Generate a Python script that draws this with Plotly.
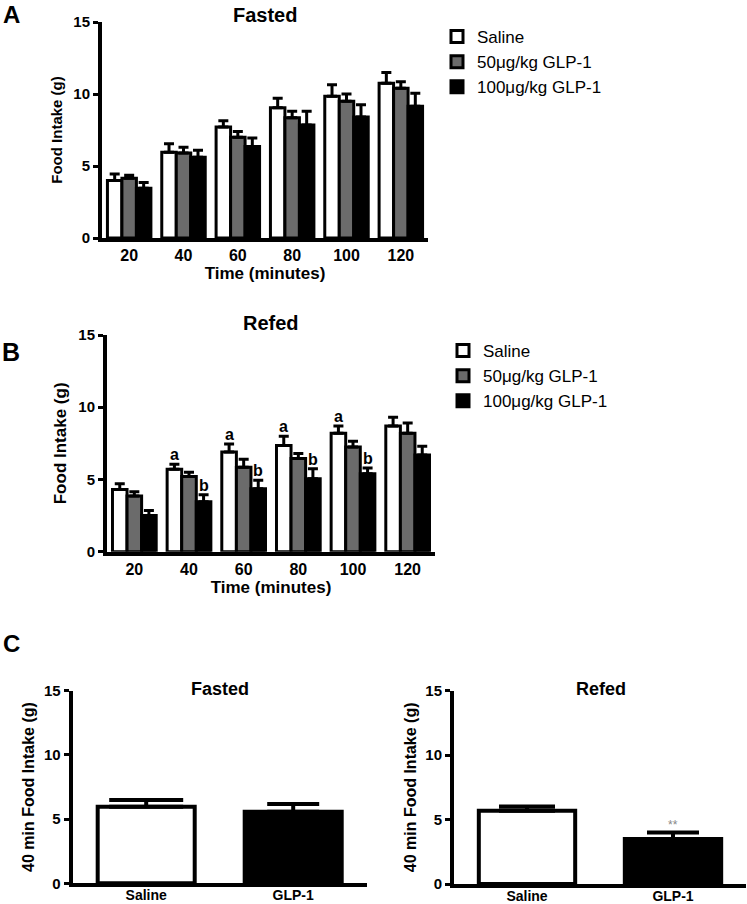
import plotly.graph_objects as go

# ---------------- data ----------------
times = ["20", "40", "60", "80", "100", "120"]
series_names = ["Saline", "50\u03bcg/kg GLP-1", "100\u03bcg/kg GLP-1"]

fasted_saline = [4.0, 5.95, 7.7, 9.05, 9.85, 10.75]
fasted_saline_sem = [0.45, 0.6, 0.45, 0.65, 0.8, 0.75]
fasted_glp50 = [4.15, 5.9, 7.0, 8.35, 9.5, 10.4]
fasted_glp50_sem = [0.2, 0.4, 0.4, 0.45, 0.5, 0.45]
fasted_glp100 = [3.45, 5.6, 6.35, 7.85, 8.4, 9.15]
fasted_glp100_sem = [0.4, 0.5, 0.6, 0.95, 0.85, 0.9]

refed_saline = [4.3, 5.7, 6.9, 7.35, 8.2, 8.7]
refed_saline_sem = [0.4, 0.35, 0.55, 0.65, 0.5, 0.6]
refed_glp50 = [3.85, 5.2, 5.85, 6.45, 7.25, 8.2]
refed_glp50_sem = [0.3, 0.3, 0.55, 0.35, 0.4, 0.7]
refed_glp100 = [2.5, 3.45, 4.35, 5.05, 5.4, 6.7]
refed_glp100_sem = [0.35, 0.5, 0.6, 0.7, 0.4, 0.6]

refed_saline_marks = ["", "a", "a", "a", "a", ""]
refed_glp100_marks = ["", "b", "b", "b", "b", ""]

c_groups = ["Saline", "GLP-1"]
c_fasted = [5.97, 5.58]
c_fasted_sem = [0.52, 0.6]
c_refed = [5.68, 3.5]
c_refed_sem = [0.34, 0.5]
c_refed_marks = ["", "**"]

y_ticks = [0, 5, 10, 15]

# ---------------- styling ----------------
FONT = "Arial, Liberation Sans, sans-serif"
W, H = 747, 904
fills = ["white", "#6b6b6b", "black"]


def px_x(a, b):
    return [a / W, b / W]


def px_y(top, bottom):
    return [1 - bottom / H, 1 - top / H]


fig = go.Figure()


def add_group_panel(xa, ya, vals, sems, legend):
    for i, (v, s) in enumerate(zip(vals, sems)):
        fig.add_trace(go.Bar(
            x=times, y=v, name=series_names[i],
            marker=dict(color=fills[i], line=dict(color="black", width=3)),
            error_y=dict(type="data", symmetric=False, array=s,
                         arrayminus=[0] * len(s), color="black",
                         thickness=3, width=5),
            xaxis=xa, yaxis=ya, legend=legend,
            legendgroup=legend + str(i),
        ))


add_group_panel("x", "y",
                [fasted_saline, fasted_glp50, fasted_glp100],
                [fasted_saline_sem, fasted_glp50_sem, fasted_glp100_sem],
                "legend")
add_group_panel("x2", "y2",
                [refed_saline, refed_glp50, refed_glp100],
                [refed_saline_sem, refed_glp50_sem, refed_glp100_sem],
                "legend2")

# panel C bars
c_fills = ["white", "black"]
c_caps = [[37, 26], [28, 26]]
for k, (xa, ya, vals, sems) in enumerate([("x3", "y3", c_fasted, c_fasted_sem),
                                           ("x4", "y4", c_refed, c_refed_sem)]):
    for j in range(2):
        fig.add_trace(go.Bar(
            x=[c_groups[j]], y=[vals[j]],
            width=0.66, offset=-0.33,
            marker=dict(color=c_fills[j], line=dict(color="black", width=4)),
            error_y=dict(type="data", symmetric=False, array=[sems[j]],
                         arrayminus=[0], color="black", thickness=4,
                         width=c_caps[k][j]),
            xaxis=xa, yaxis=ya, showlegend=False,
        ))

# annotations (x given as category index on the category axis)
ann = []
mark_font = dict(family=FONT, size=16, color="black", weight="bold")
for i in range(len(times)):
    if refed_saline_marks[i]:
        ann.append(dict(x=i, y=refed_saline[i] + refed_saline_sem[i],
                        xref="x2", yref="y2", text=refed_saline_marks[i],
                        showarrow=False, yanchor="bottom", xshift=-14.6, yshift=-1,
                        font=mark_font))
    if refed_glp100_marks[i]:
        ann.append(dict(x=i, y=refed_glp100[i] + refed_glp100_sem[i],
                        xref="x2", yref="y2", text=refed_glp100_marks[i],
                        showarrow=False, yanchor="bottom", xshift=14.6, yshift=-1,
                        font=mark_font))
for j in range(2):
    if c_refed_marks[j]:
        ann.append(dict(x=j, y=c_refed[j] + c_refed_sem[j],
                        xref="x4", yref="y4", text=c_refed_marks[j],
                        showarrow=False, yanchor="bottom", yshift=-2,
                        font=dict(family=FONT, size=12, color="#888888")))


def title(text, x, y, size=20, yanchor="middle"):
    return dict(x=x, y=y, xref="paper", yref="paper", text=text, showarrow=False,
                xanchor="center", yanchor=yanchor, borderpad=0,
                font=dict(family=FONT, size=size, color="black", weight="bold"))


ann += [
    title("Fasted", 265 / W, 1 - 15 / H),
    title("Refed", 271 / W, 1 - 323 / H),
    title("Fasted", 219.7 / W, 1 - 689 / H, 18),
    title("Refed", 600.5 / W, 1 - 689 / H, 18),
    title("A", 11 / W, 1.0, 24, "top"),
    title("B", 11 / W, 1 - 352 / H, 25),
    title("C", 11 / W, 1 - 643 / H, 24),
]


def xaxis(domain, anchor, cats, tsize, title_text, title_size, standoff=0):
    return dict(domain=domain, anchor=anchor, type="category", automargin=False,
                categoryorder="array", categoryarray=cats,
                range=[-0.5, len(cats) - 0.5],
                showline=True, linewidth=4, linecolor="black",
                ticks="", showgrid=False, zeroline=False,
                ticklabelstandoff=standoff,
                tickfont=dict(family=FONT, size=tsize, color="black", weight="bold"),
                title=dict(text=title_text, standoff=2,
                           font=dict(family=FONT, size=title_size, color="black",
                                     weight="bold")))


def yaxis(domain, anchor, tsize, title_text, title_size, standoff):
    return dict(domain=domain, anchor=anchor, range=[0, 15], tickvals=y_ticks,
                automargin=False,
                showline=True, linewidth=4, linecolor="black",
                ticks="outside", ticklen=5, tickwidth=3, tickcolor="black",
                showgrid=False, zeroline=False,
                tickfont=dict(family=FONT, size=tsize, color="black", weight="bold"),
                title=dict(text=title_text, standoff=standoff,
                           font=dict(family=FONT, size=title_size, color="black",
                                     weight="bold")))


legend_common = dict(font=dict(family=FONT, size=17, color="black"),
                     bgcolor="rgba(0,0,0,0)", tracegroupgap=0,
                     xanchor="left", yanchor="top", itemclick=False)

fig.update_layout(
    width=W, height=H,
    margin=dict(l=0, r=0, t=0, b=0, autoexpand=False),
    paper_bgcolor="white", plot_bgcolor="white",
    barmode="group", bargap=0.2, bargroupgap=0,
    xaxis=xaxis(px_x(102, 428), "y", times, 16, "Time (minutes)", 17),
    yaxis=yaxis(px_y(22, 238), "x", 15, "Food Intake (g)", 15, 8),
    xaxis2=xaxis(px_x(107, 435), "y2", times, 16, "Time (minutes)", 17),
    yaxis2=yaxis(px_y(335, 551.7), "x2", 15, "Food Intake (g)", 17, 8),
    xaxis3=xaxis(px_x(72.7, 366.7), "y3", c_groups, 14, "", 13, -4),
    yaxis3=yaxis(px_y(690.7, 883.3), "x3", 15, "40 min Food Intake (g)", 16, 6),
    xaxis4=xaxis(px_x(454, 746), "y4", c_groups, 14, "", 13, -4),
    yaxis4=yaxis(px_y(690.7, 884), "x4", 15, "40 min Food Intake (g)", 16, 6),
    legend=dict(x=437 / W, y=1 - 19 / H, **legend_common),
    legend2=dict(x=443 / W, y=1 - 333 / H, **legend_common),
    annotations=ann,
    showlegend=True,
)

fig.write_html(
    "out.html",
    config={"displayModeBar": False},
    post_script="document.body.style.margin='0px';document.body.style.overflow='hidden';",
)
